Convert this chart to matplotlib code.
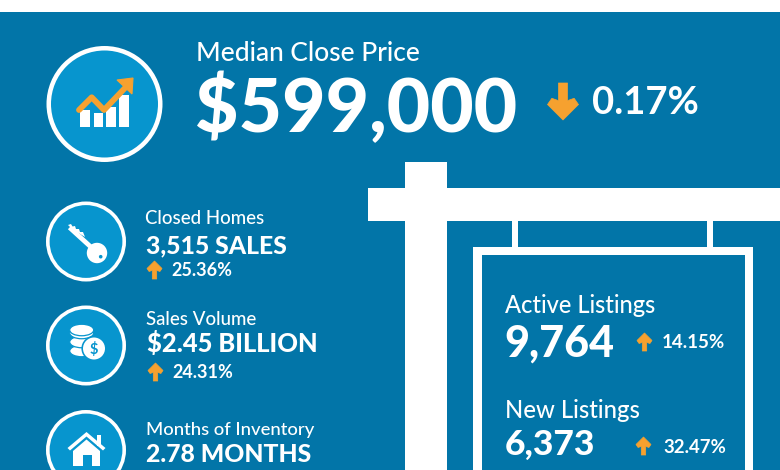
import matplotlib
matplotlib.use("Agg")
import matplotlib.pyplot as plt
from matplotlib.patches import Circle, Rectangle, Polygon, Ellipse

plt.rcParams['font.family'] = ['Lato', 'DejaVu Sans']

BG = '#0275A8'
DISC = '#0795CE'
ORANGE = '#F6A12F'
W = '#FFFFFF'

headline_label = "Median Close Price"
headline_value = "$599,000"
headline_change = "0.17%"
side_labels = ["Closed Homes", "Sales Volume", "Months of Inventory"]
side_values = ["3,515 SALES", "$2.45 BILLION", "2.78 MONTHS"]
side_changes = ["25.36%", "24.31%"]
sign_labels = ["Active Listings", "New Listings"]
sign_values = ["9,764", "6,373"]
sign_changes = ["14.15%", "32.47%"]

fig = plt.figure(figsize=(7.8, 4.7), dpi=100, facecolor=W)
ax = fig.add_axes([0, 0, 1, 1])
ax.set_xlim(0, 780)
ax.set_ylim(470, 0)
ax.axis('off')


def rect(x0, y0, x1, y1, c=W, z=2):
    ax.add_patch(Rectangle((x0, y0), x1 - x0, y1 - y0, fc=c, ec='none', zorder=z))


def txt(x, y, s, size, weight='normal', c=W):
    ax.text(x, y, s, fontsize=size, fontweight=weight, color=c, ha='left',
            va='baseline', zorder=6)


def arrow(xc, y0, y1, hw, sw):
    # chevron-headed arrow: y0 is the tail end, y1 the tip
    d = 1 if y1 > y0 else -1
    wing = y1 - d * hw
    back = wing - d * hw * 0.4
    inner = y1 - d * hw * 1.25
    pts = [(xc - sw, y0), (xc + sw, y0), (xc + sw, inner),
           (xc + hw * 0.72, back), (xc + hw, wing), (xc, y1), (xc - hw, wing),
           (xc - hw * 0.72, back), (xc - sw, inner)]
    ax.add_patch(Polygon(pts, closed=True, fc=ORANGE, ec=ORANGE, lw=0.5,
                         joinstyle='round', zorder=5))


def disc(xc, yc, r, lw):
    ax.add_patch(Circle((xc, yc), r - lw / 2, fc=DISC, ec=W, lw=lw * 0.72, zorder=3))


# background
rect(0, 12, 780, 470, BG, 1)

# sign
rect(405, 162, 447, 470)
rect(368, 188, 780, 221)
rect(512, 221, 518, 247)
rect(707, 221, 713, 247)
rect(473, 247, 753, 470)
rect(481.5, 254.5, 745, 470, BG, 3)

# headline
disc(104.5, 104, 58, 4.5)
for x0, x1, top in [(80, 90, 110), (93.5, 103, 113), (106, 115.5, 107), (118.5, 128.5, 95)]:
    rect(x0, top, x1, 127, W, 4)
ax.plot([79, 91.7, 104, 125], [110, 97.3, 110, 88], color=ORANGE, lw=4.2,
        solid_capstyle='round', solid_joinstyle='round', zorder=5)
ax.add_patch(Polygon([(133, 78), (117, 80), (132, 94)], closed=True, fc=ORANGE, ec=ORANGE,
                     lw=0.8, zorder=5))
txt(196, 61, headline_label, 19, 'medium')
txt(195, 132, headline_value, 54, 'black')
arrow(563, 83, 120, 15.5, 4.5)
txt(592, 114, headline_change, 27.5, 'bold')

# side icons
centres = [241.5, 345.5, 450]
for yc in centres:
    disc(86, yc, 40, 3.6)

# key
ax.add_patch(Circle((97, 253), 10.2, fc=W, ec='none', zorder=4))
ax.add_patch(Circle((100.7, 256.7), 1.8, fc=DISC, ec='none', zorder=5))
ax.plot([69.5, 92], [227.5, 248], color=W, lw=3.4, zorder=4, solid_capstyle='butt')
ax.add_patch(Polygon([(68, 225), (71, 224), (72.5, 226.5), (75, 226), (76, 229), (79, 229), (80, 232),
                      (83, 232), (85, 237), (72, 229)], closed=True, fc=W, ec='none', zorder=4))

# coins
for cy in [351, 342, 333]:
    ax.add_patch(Ellipse((81.7, cy), 24, 11.5, fc=W, ec=DISC, lw=0.9, zorder=4))
ax.add_patch(Ellipse((81.7, 330), 24, 11.5, fc=W, ec=DISC, lw=0.9, zorder=4))
ax.add_patch(Circle((94, 348.5), 12.6, fc=DISC, ec='none', zorder=4))
ax.add_patch(Circle((94, 348.5), 11, fc=W, ec='none', zorder=5))
ax.text(94, 349, "$", fontsize=10.5, fontweight='bold', color=DISC, ha='center', va='center', zorder=6)

# house
rect(97, 435, 101, 446, W, 4)
ax.add_patch(Polygon([(86.5, 432), (105.5, 448), (103, 450.5), (86.5, 436.5), (70, 450.5), (67.5, 448)],
                     closed=True, fc=W, ec='none', zorder=4))
ax.add_patch(Polygon([(86.5, 439.5), (100, 451), (100, 466), (73, 466), (73, 451)],
                     closed=True, fc=W, ec='none', zorder=4))
rect(83, 455, 92, 466, DISC, 5)

# side text
txt(145, 224, side_labels[0], 13.4, 'medium')
txt(146, 253, side_values[0], 17.8, 'black')
txt(171, 276, side_changes[0], 13, 'bold')
arrow(154.5, 279, 261, 7.5, 2.2)

txt(146, 325, side_labels[1], 13.4, 'medium')
txt(147, 352, side_values[1], 18.4, 'black')
txt(172, 378, side_changes[1], 13, 'bold')
arrow(155.5, 381, 363, 7.5, 2.2)

txt(146, 435, side_labels[2], 13.3, 'medium')
txt(146, 462, side_values[2], 17.8, 'black')

# sign text
txt(505, 313, sign_labels[0], 17, 'medium')
txt(504.5, 357, sign_values[0], 31, 'black')
arrow(644.5, 351, 333, 7.5, 2.2)
txt(662, 348, sign_changes[0], 13.5, 'bold')

txt(505, 418, sign_labels[1], 17.2, 'medium')
txt(505, 455, sign_values[1], 25.5, 'black')
arrow(643.5, 455, 437, 7.5, 2.2)
txt(663, 453, sign_changes[1], 13.4, 'bold')

fig.savefig('out.png', dpi=100, facecolor=W)
